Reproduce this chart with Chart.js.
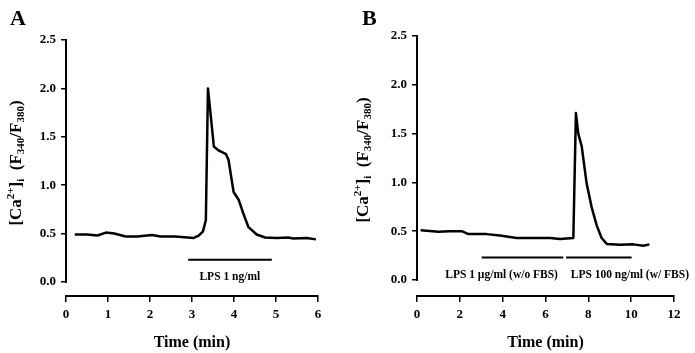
<!DOCTYPE html>
<html>
<head>
<meta charset="utf-8">
<script src="https://cdn.jsdelivr.net/npm/chart.js@4.4.1/dist/chart.umd.min.js"></script>
<style>
    html, body { margin: 0; padding: 0; background: #fff; }
    #wrap { position: relative; width: 695px; height: 353px; }
    .panel { position: absolute; top: 0; }
    #chartA { left: 0; }
    #chartB { left: 345px; }
</style>
</head>
<body>
<div id="wrap">
    <canvas id="chartA" class="panel" width="345" height="353"></canvas>
    <canvas id="chartB" class="panel" width="350" height="353"></canvas>
</div>
<script>
'use strict';

// Panel A: LPS 1 ng/ml
const timeA = [0.21, 0.5, 0.75, 0.95, 1.15, 1.42, 1.7, 2.05, 2.25, 2.6, 3.04, 3.16, 3.26, 3.33, 3.38,
    3.52, 3.63, 3.81, 3.87, 3.99, 4.11, 4.22, 4.34, 4.54, 4.74, 5.02, 5.29, 5.41, 5.73, 5.95];
const ratioA = [0.49, 0.49, 0.48, 0.51, 0.50, 0.47, 0.47, 0.485, 0.47, 0.47, 0.455, 0.48, 0.52, 0.64, 2.00,
    1.40, 1.36, 1.32, 1.26, 0.93, 0.85, 0.71, 0.57, 0.49, 0.46, 0.455, 0.46, 0.45, 0.455, 0.44];

// Panel B: LPS 1 ug/ml without FBS, then 100 ng/ml with FBS
const timeB = [0.17, 1.0, 1.5, 2.09, 2.4, 3.25, 3.87, 4.65, 5.43, 6.21, 6.68, 7.3, 7.42, 7.53, 7.69,
    7.92, 8.15, 8.39, 8.62, 8.86, 9.48, 10.1, 10.57, 10.85];
const ratioB = [0.51, 0.495, 0.50, 0.50, 0.47, 0.47, 0.455, 0.43, 0.43, 0.43, 0.42, 0.43, 1.71, 1.50, 1.37,
    0.99, 0.75, 0.56, 0.43, 0.37, 0.36, 0.365, 0.35, 0.365];

const yTicks = [0, 0.5, 1.0, 1.5, 2.0, 2.5];

// treatment bars (start, end in min) and their captions
const barsA = [[2.91, 4.9]];
const captionsA = ['LPS 1 ng/ml'];
const captionTimeA = [3.9];
const barsB = [[3.02, 6.83], [6.96, 10.02]];
const captionsB = ['LPS 1 \u00b5g/ml (w/o FBS)', 'LPS 100 ng/ml (w/ FBS)'];
const captionTimeB = [3.95, 9.94];
const barLevel = 0.23;
const captionLevel = 0.055;

const SERIF = '"Liberation Serif", "Times New Roman", serif';

function drawYTitle(ctx, cx, cy) {
    const parts = [
        { t: '[Ca', k: 'n' }, { t: '2+', k: 'sup' }, { t: ']', k: 'n' }, { t: 'i', k: 'sub' },
        { t: '  (F', k: 'n' }, { t: '340', k: 'sub' }, { t: '/F', k: 'n' }, { t: '380', k: 'sub' },
        { t: ')', k: 'n' }
    ];
    const big = 'bold 17px ' + SERIF;
    const small = 'bold 11px ' + SERIF;
    let total = 0;
    for (const p of parts) {
        ctx.font = p.k === 'n' ? big : small;
        p.w = ctx.measureText(p.t).width;
        total += p.w;
    }
    ctx.save();
    ctx.translate(cx, cy);
    ctx.rotate(-Math.PI / 2);
    ctx.textAlign = 'left';
    ctx.textBaseline = 'alphabetic';
    let x = -total / 2;
    for (const p of parts) {
        ctx.font = p.k === 'n' ? big : small;
        const dy = p.k === 'sup' ? -1 : (p.k === 'sub' ? 9 : 5.5);
        ctx.fillText(p.t, x, dy);
        x += p.w;
    }
    ctx.restore();
}

const panelDecor = {
    id: 'panelDecor',
    afterDraw(chart, args, opts) {
        const ctx = chart.ctx;
        const xs = chart.scales.x;
        const ys = chart.scales.y;
        ctx.save();
        ctx.fillStyle = '#000';
        ctx.strokeStyle = '#000';

        // y axis line only spans 0.0 .. 2.5
        ctx.lineWidth = 2;
        ctx.beginPath();
        ctx.moveTo(ys.right, ys.getPixelForValue(0) + 1);
        ctx.lineTo(ys.right, ys.getPixelForValue(2.5) - 1);
        ctx.stroke();

        ctx.font = 'bold 11.5px ' + SERIF;
        ctx.textAlign = 'center';
        ctx.textBaseline = 'middle';
        opts.captions.forEach((t, i) => {
            ctx.fillText(t, xs.getPixelForValue(opts.captionTime[i]), ys.getPixelForValue(captionLevel));
        });

        ctx.font = 'bold 22px ' + SERIF;
        ctx.textAlign = 'left';
        ctx.textBaseline = 'alphabetic';
        ctx.fillText(opts.letter, opts.letterX, 25);

        drawYTitle(ctx, opts.titleX, opts.titleY);
        ctx.restore();
    }
};

function makePanel({ canvasId, time, ratio, bars, captions, captionTime, xMax, xStep, yMin, padding, letter, letterX, titleX, titleY }) {
    const datasets = [{
        data: time.map((t, i) => ({ x: t, y: ratio[i] })),
        borderColor: '#000',
        borderWidth: 2.5,
        pointRadius: 0,
        tension: 0,
        borderJoinStyle: 'round'
    }];
    bars.forEach(b => {
        datasets.push({
            data: [{ x: b[0], y: barLevel }, { x: b[1], y: barLevel }],
            borderColor: '#000',
            borderWidth: 2,
            pointRadius: 0
        });
    });

    return new Chart(document.getElementById(canvasId), {
        type: 'line',
        data: { datasets },
        options: {
            responsive: false,
            animation: false,
            layout: { padding },
            plugins: {
                legend: { display: false },
                tooltip: { enabled: false },
                panelDecor: { captions, captionTime, letter, letterX, titleX, titleY }
            },
            scales: {
                x: {
                    type: 'linear',
                    min: 0,
                    max: xMax,
                    afterFit: s => { s.height = 57; },
                    border: { display: true, color: '#000', width: 2 },
                    grid: { drawOnChartArea: false, drawTicks: true, tickLength: 6, color: '#000', lineWidth: 1.5 },
                    ticks: {
                        stepSize: xStep,
                        color: '#000',
                        padding: 5,
                        maxRotation: 0,
                        font: { family: SERIF, size: 13, weight: 'bold' }
                    },
                    title: {
                        display: true,
                        text: 'Time (min)',
                        color: '#000',
                        padding: { top: 0, bottom: 1 },
                        font: { family: SERIF, size: 16, weight: 'bold' }
                    }
                },
                y: {
                    min: yMin,
                    max: 2.5,
                    afterFit: s => { s.width = 50; },
                    afterBuildTicks: s => { s.ticks = yTicks.map(v => ({ value: v })); },
                    border: { display: false },
                    grid: { drawOnChartArea: false, drawTicks: true, tickLength: 5, color: '#000', lineWidth: 1.5 },
                    ticks: {
                        color: '#000',
                        padding: 5,
                        font: { family: SERIF, size: 13, weight: 'bold' },
                        callback: v => Number(v).toFixed(1)
                    }
                }
            }
        },
        plugins: [panelDecor]
    });
}

makePanel({
    canvasId: 'chartA', time: timeA, ratio: ratioA, bars: barsA,
    captions: captionsA, captionTime: captionTimeA,
    xMax: 6, xStep: 1, yMin: -0.145,
    padding: { left: 16, right: 27, top: 40, bottom: 0 },
    letter: 'A', letterX: 10, titleX: 15, titleY: 163
});

makePanel({
    canvasId: 'chartB', time: timeB, ratio: ratioB, bars: barsB,
    captions: captionsB, captionTime: captionTimeB,
    xMax: 12, xStep: 2, yMin: -0.164,
    padding: { left: 22, right: 21, top: 36, bottom: 0 },
    letter: 'B', letterX: 17, titleX: 17, titleY: 160
});
</script>
</body>
</html>
